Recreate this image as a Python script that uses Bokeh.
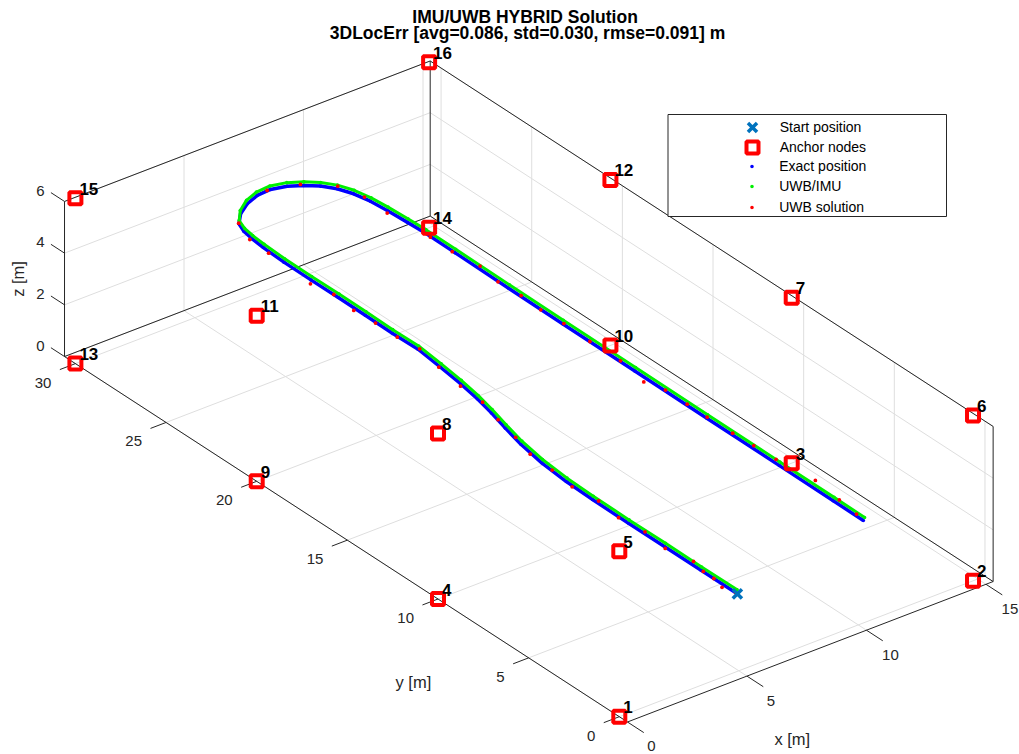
import numpy as np
from bokeh.plotting import figure
from bokeh.models import Range1d, Legend, LegendItem
from bokeh.core.properties import value
from bokeh.embed import file_html
from bokeh.resources import INLINE

# ---------------- data (metres) ----------------
anchor_ids = [str(i) for i in range(1, 17)]
anchor_x = [0, 14.8, 14.8, 0, 0, 14.8, 14.8, 0, 0, 14.8, 0, 14.8, 0, 14.8, 0, 14.8]
anchor_y = [0, 0, 10, 10, 0, 0, 10, 10, 20, 20, 20, 20, 30, 30, 30, 30]
anchor_z = [0, 0, 0, 0, 6.4, 6.4, 6.4, 6.4, 0, 0, 6.4, 6.4, 0, 0, 6.4, 6.4]

start_x = [4.94]
start_y = [0.0]
start_z = [3.0]

exact_x = [4.94, 4.94, 4.94, 4.94, 4.95, 4.99, 5.10, 5.30, 5.55, 5.80, 6.00, 6.17, 6.31, 6.45,
           6.42, 6.44, 6.45, 6.44, 6.45, 6.50, 6.56, 6.64, 6.82, 7.27, 7.85, 8.45, 9.04, 9.61,
           10.08, 10.49, 10.82, 11.05, 11.19, 11.26, 11.31, 11.35, 11.33, 11.30, 11.28, 11.27,
           11.25, 11.24, 11.23, 11.22]
exact_y = [0.0, 2.0, 4.0, 6.0, 8.0, 9.5, 11.0, 12.4, 13.6, 14.7, 15.74, 16.89, 18.18, 19.6,
           21.0, 22.5, 24.0, 25.5, 27.0, 28.2, 28.9, 29.45, 29.97, 30.47, 30.87, 31.11, 31.16, 30.99,
           30.69, 30.31, 29.83, 29.22, 28.48, 27.64, 26.61, 25.66, 24.0, 21.0, 18.0, 14.0,
           10.0, 6.0, 3.0, 1.33]
exact_z = 3.0

fused_x = [4.97, 4.96, 4.97, 4.96, 4.98, 5.02, 5.13, 5.33, 5.58, 5.83, 6.03, 6.20, 6.34, 6.47,
           6.45, 6.47, 6.48, 6.47, 6.48, 6.53, 6.58, 6.66, 6.83, 7.27, 7.84, 8.44, 9.04, 9.62,
           10.10, 10.51, 10.85, 11.08, 11.22, 11.29, 11.34, 11.37, 11.36, 11.33, 11.31, 11.30,
           11.28, 11.27, 11.26, 11.25]
fused_y = [0.05, 2.0, 4.0, 6.0, 8.0, 9.5, 11.0, 12.4, 13.6, 14.7, 15.74, 16.89, 18.18, 19.6,
           21.0, 22.5, 24.0, 25.5, 27.0, 28.2, 28.9, 29.45, 29.97, 30.49, 30.90, 31.14, 31.19, 31.02,
           30.71, 30.33, 29.85, 29.23, 28.48, 27.64, 26.61, 25.66, 24.0, 21.0, 18.0, 14.0,
           10.0, 6.0, 3.0, 1.30]
fused_z = 3.12

uwb_x = [4.94, 4.80, 4.94, 4.95, 5.10, 4.88, 5.02, 4.90, 5.05, 4.93, 5.08, 5.15, 5.45, 5.70,
         6.00, 6.07, 6.27, 6.51, 6.39, 6.39, 6.33, 6.45, 6.27, 6.41, 6.47, 6.84, 8.91, 10.03,
         10.94, 11.20, 11.15, 11.31, 11.30, 11.45, 11.28, 11.33, 11.27, 11.32, 11.28, 11.30,
         11.06, 11.30, 11.30, 11.30, 11.32, 11.37, 11.40, 11.58, 11.42, 11.30]
uwb_y = [0.10, 0.66, 1.30, 1.89, 2.63, 3.90, 5.20, 6.50, 7.80, 9.10, 10.40, 11.70, 12.90, 14.20,
         15.45, 16.76, 18.22, 19.59, 20.67, 21.87, 22.99, 24.25, 25.30, 27.79, 28.91, 30.01, 31.17, 30.81,
         29.95, 28.82, 27.50, 25.33, 24.11, 22.77, 21.56, 20.35, 19.19, 17.98, 16.49, 14.83,
         13.23, 12.35, 11.15, 10.05, 8.67, 7.57, 6.38, 4.45, 2.92, 1.81]
uwb_z = 3.0

x_ticks = [0, 5, 10, 15]
y_ticks = [0, 5, 10, 15, 20, 25, 30]
z_ticks = [0, 2, 4, 6]
x_lim = [0.0, 15.3]
y_lim = [-0.45, 30.6]
z_lim = [0.0, 6.0]

title_lines = ["IMU/UWB HYBRID  Solution", "3DLocErr [avg=0.086, std=0.030, rmse=0.091] m"]
legend_labels = ["Start position", "Anchor nodes", "Exact position", "UWB/IMU", "UWB solution"]

# ---------------- view (orthographic projection, pixels) ----------------
W, H = 1019, 754
OX, OY = 618.8, 716.2            # screen position of (0,0,0)
EX = (23.9, -9.18)               # screen step per metre of x
EY = (-18.13, -11.77)            # screen step per metre of y
EZ = -25.85                      # screen step per metre of z


def proj(x, y, z):
    x = np.asarray(x, dtype=float)
    y = np.asarray(y, dtype=float)
    z = np.broadcast_to(np.asarray(z, dtype=float), x.shape)
    sx = OX + x * EX[0] + y * EY[0]
    sy = OY + x * EX[1] + y * EY[1] + z * EZ
    return sx, H - sy


def seg(p0, p1):
    a = proj([p0[0]], [p0[1]], [p0[2]])
    b = proj([p1[0]], [p1[1]], [p1[2]])
    return [a[0][0], b[0][0]], [a[1][0], b[1][0]]


p = figure(width=W, height=H, x_range=Range1d(0, W), y_range=Range1d(0, H),
           x_axis_type=None, y_axis_type=None, output_backend="svg",
           toolbar_location=None, min_border=0, outline_line_color=None,
           background_fill_color="white", border_fill_color="white")

FONT = value("Liberation Sans")
x0, x1 = x_lim
y0, y1 = y_lim
z0, z1 = z_lim

# grid lines on the three back planes
gx, gy = [], []
for xt in x_ticks:
    for a, b in [((xt, y0, 0), (xt, y1, 0)), ((xt, y1, z0), (xt, y1, z1))]:
        s = seg(a, b); gx.append(s[0]); gy.append(s[1])
for yt in y_ticks:
    for a, b in [((x0, yt, 0), (x1, yt, 0)), ((x1, yt, z0), (x1, yt, z1))]:
        s = seg(a, b); gx.append(s[0]); gy.append(s[1])
for zt in z_ticks:
    for a, b in [((x1, y0, zt), (x1, y1, zt)), ((x0, y1, zt), (x1, y1, zt))]:
        s = seg(a, b); gx.append(s[0]); gy.append(s[1])
p.multi_line(gx, gy, line_color="#dedede", line_width=1)

# box edges and ticks
bx, by = [], []
edges = [((x0, y0, 0), (x1, y0, 0)), ((x0, y0, 0), (x0, y1, 0)),
         ((x0, y1, 0), (x1, y1, 0)), ((x1, y0, 0), (x1, y1, 0)),
         ((x0, y1, z0), (x0, y1, z1)), ((x1, y1, z0), (x1, y1, z1)), ((x1, y0, z0), (x1, y0, z1)),
         ((x0, y1, z1), (x1, y1, z1)), ((x1, y0, z1), (x1, y1, z1))]
for xt in x_ticks:
    edges.append(((xt, y0, 0), (xt, y0 - 0.9, 0)))
for yt in y_ticks:
    edges.append(((x0, yt, 0), (x0 - 0.65, yt, 0)))
for zt in z_ticks:
    edges.append(((x0, y1, zt), (x0, y1 + 0.75, zt)))
for a, b in edges:
    s = seg(a, b); bx.append(s[0]); by.append(s[1])
p.multi_line(bx, by, line_color="#262626", line_width=1)

# trajectories
ex_s = proj(exact_x, exact_y, exact_z)
fu_s = proj(fused_x, fused_y, fused_z)
uw_s = proj(uwb_x, uwb_y, uwb_z)
p.line(ex_s[0], ex_s[1], line_color="#0000ff", line_width=3.5, line_join="round")
r_exact = p.scatter(ex_s[0], ex_s[1], marker="circle", size=3.6, fill_color="#0000ff", line_color=None)
p.line(fu_s[0], fu_s[1], line_color="#00f000", line_width=3, line_join="round")
r_fused = p.scatter(fu_s[0], fu_s[1], marker="circle", size=3.6, fill_color="#00f000", line_color=None)
r_uwb = p.scatter(uw_s[0], uw_s[1], marker="circle", size=3.8, fill_color="#ff0000", line_color=None)

# anchors and start
an_s = proj(anchor_x, anchor_y, anchor_z)
r_anchor = p.scatter(an_s[0], an_s[1], marker="square", size=12, fill_color=None,
                     line_color="#ff0000", line_width=4)
st_s = proj(start_x, start_y, start_z)
r_start = p.scatter(st_s[0], st_s[1], marker="x", size=13, line_color="#0072bd", line_width=3.5)

p.text(an_s[0], an_s[1], text=anchor_ids, x_offset=4, y_offset=-9.5, text_font=FONT,
       text_font_size="17px", text_font_style="bold", text_color="black",
       text_align="left", text_baseline="middle")

# tick labels
tx = proj(x_ticks, [y0] * len(x_ticks), 0)
p.text(tx[0], tx[1], text=[str(v) for v in x_ticks], x_offset=24, y_offset=24.5, text_font=FONT,
       text_font_size="15px", text_color="#262626", text_align="center", text_baseline="middle")
ty = proj([x0] * len(y_ticks), y_ticks, 0)
p.text(ty[0], ty[1], text=[str(v) for v in y_ticks], x_offset=-24, y_offset=19, text_font=FONT,
       text_font_size="15px", text_color="#262626", text_align="right", text_baseline="middle")
tz = proj([x0] * len(z_ticks), [y1] * len(z_ticks), z_ticks)
p.text(tz[0], tz[1], text=[str(v) for v in z_ticks], x_offset=-24, y_offset=-10.7, text_font=FONT,
       text_font_size="15px", text_color="#262626", text_align="center", text_baseline="middle")

# axis labels
lx = proj([7.65], [y0], 0)
p.text(lx[0], lx[1], text=["x [m]"], x_offset=-18, y_offset=87, text_font=FONT,
       text_font_size="16.5px", text_color="#262626", text_align="center", text_baseline="middle")
ly = proj([x0], [15], 0)
p.text(ly[0], ly[1], text=["y [m]"], x_offset=66, y_offset=142, text_font=FONT,
       text_font_size="16.5px", text_color="#262626", text_align="center", text_baseline="middle")
lz = proj([x0], [y1], 3)
p.text(lz[0], lz[1], text=["z [m]"], x_offset=-47, y_offset=0, angle=np.pi / 2, text_font=FONT,
       text_font_size="16.5px", text_color="#262626", text_align="center", text_baseline="middle")

# title
p.text([527, 527], [H - 16.0, H - 32.3], text=title_lines, text_font=FONT, text_font_size="17.5px",
       text_font_style="bold", text_color="black", text_align="center", text_baseline="middle")

# legend box
p.quad(left=[667.5], right=[946], top=[H - 114], bottom=[H - 216], fill_color="white",
       line_color="#262626", line_width=1)

rows = [126.7, 146.7, 166.0, 186.0, 206.7]
specs = [(r_start, 32), (r_anchor, 30), (r_exact, 9), (r_fused, 9), (r_uwb, 9)]
MX, TX = 751.7, 779.3
for lab, (rend, g), row in zip(legend_labels, specs, rows):
    gh = max(g, 20)
    top = row - gh / 2
    leg = Legend(items=[LegendItem(label=lab, renderers=[rend])],
                 location=(MX - g / 2, H - (top + gh)), orientation="vertical",
                 padding=0, margin=0, spacing=0, glyph_width=g, glyph_height=gh,
                 label_height=gh, label_standoff=int(round(TX - (MX + g / 2))),
                 label_text_font="Liberation Sans", label_text_font_size="14px",
                 label_text_color="black", border_line_alpha=0, background_fill_alpha=0)
    p.add_layout(leg)

open("out.html", "w").write(file_html(p, INLINE))
